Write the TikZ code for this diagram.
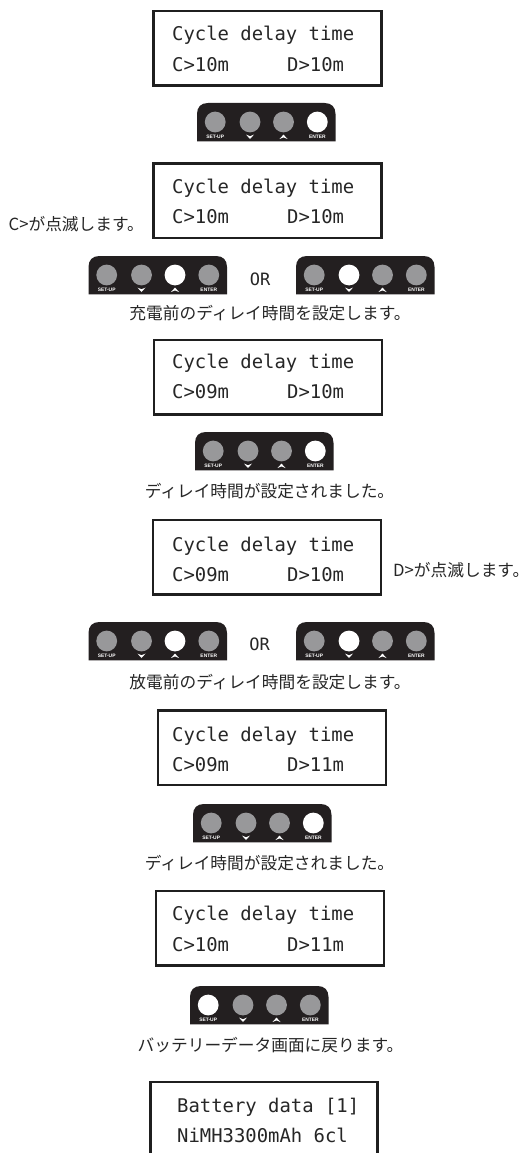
\documentclass[tikz,border=0pt]{standalone}
\usepackage{fontspec}
\setmainfont{Liberation Sans}
\newfontfamily\jp{Noto Sans CJK JP}
\newfontfamily\lcd{DejaVu Sans Mono}
\tikzset{x=1pt,y=-1pt,
  lcdbox/.style={draw=black!88,line width=2.2pt,fill=white},
  lcdtext/.style={font=\lcd\fontsize{18.9}{20}\selectfont,anchor=base west,inner sep=0pt,text=black!85},
  ortext/.style={font=\lcd\fontsize{17}{18}\selectfont,inner sep=0pt,text=black!85},
  note/.style={font=\jp\fontsize{16.7}{18}\selectfont,inner sep=0pt,text=black!85},
  padtext/.style={font=\bfseries\fontsize{4.9}{5}\selectfont,text=white,inner sep=0pt}}
\definecolor{padc}{HTML}{231F20}
\definecolor{btn}{HTML}{98989A}
% box left, box top, baseline 1, baseline 2, C value, D value
\newcommand{\lcdpanel}[6]{%
  \draw[lcdbox] (#1,#2) rectangle (#1+228,#2+74.5);
  \node[lcdtext] at (172,#3) {Cycle delay time};
  \node[lcdtext] at (172,#4) {C>#5m};
  \node[lcdtext] at (287,#4) {D>#6m};
}
\newcommand{\keypad}[3]{% x, y top, lit button index
  \begin{scope}[shift={(#1,#2)}]
  \fill[padc] (0,38.3) -- (0,11) .. controls (0,4) and (4,0) .. (11,0) -- (127.5,0) .. controls (134.5,0) and (138.5,4) .. (138.5,11) -- (138.5,38.3) -- cycle;
  \foreach \i/\cx in {1/18.2,2/53,3/86.5,4/120.3}{
    \ifnum\i=#3\relax\fill[white] (\cx,19) circle (10.4);\else\fill[btn] (\cx,19) circle (10.4);\fi
  }
  \node[padtext] at (18.2,33.6) {SET-UP};
  \node[padtext] at (120.3,33.6) {ENTER};
  \fill[white] (49,31.6) -- (53,33.2) -- (57,31.6) -- (53,36) -- cycle;
  \fill[white] (82.5,36) -- (86.5,34.4) -- (90.5,36) -- (86.5,31.6) -- cycle;
  \end{scope}
}
\begin{document}
\begin{tikzpicture}
\useasboundingbox (0,0) rectangle (530,1153);
\fill[white] (0,0) rectangle (530,1153);
\lcdpanel{153.5}{11}{41}{71.5}{10}{10}
\keypad{197}{103}{4}
\lcdpanel{153.5}{163.5}{193}{223}{10}{10}
\node[note,anchor=east] at (144,224) {C>が点滅します。};
\keypad{88.5}{256}{3}
\node[ortext] at (260,279) {OR};
\keypad{296}{256}{2}
\node[note] at (270,313) {充電前のディレイ時間を設定します。};
\lcdpanel{154}{340}{368}{398}{09}{10}
\keypad{195}{432}{4}
\node[note] at (269.5,491) {ディレイ時間が設定されました。};
\lcdpanel{153}{520}{551}{581}{09}{10}
\node[note,anchor=west] at (393,570) {D>が点滅します。};
\keypad{88.5}{622}{3}
\node[ortext] at (259.5,644) {OR};
\keypad{296}{622}{2}
\node[note] at (270,682) {放電前のディレイ時間を設定します。};
\lcdpanel{158}{710.5}{741}{771}{09}{11}
\keypad{193}{804}{4}
\node[note] at (269.5,863) {ディレイ時間が設定されました。};
\lcdpanel{156}{891}{920}{951}{10}{11}
\keypad{190}{986}{1}
\node[note] at (270.5,1045) {バッテリーデータ画面に戻ります。};
\draw[lcdbox] (150.5,1155) -- (150.5,1082) -- (377.5,1082) -- (377.5,1155);
\node[lcdtext] at (177,1112) {Battery data [1]};
\node[lcdtext] at (177,1142) {NiMH3300mAh 6cl};
\end{tikzpicture}
\end{document}
